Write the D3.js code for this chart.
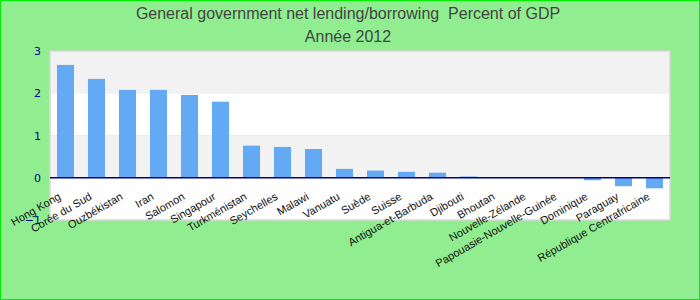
<!DOCTYPE html>
<html>
<head>
	<script src="https://d3js.org/d3.v7.min.js"></script>
	<style>
		body { margin: 0; }
	</style>
</head>
<body>
	<svg width="700" height="300"></svg>
	<script>
		var countries = ["Hong Kong", "Corée du Sud", "Ouzbékistan", "Iran", "Salomon", "Singapour",
			"Turkménistan", "Seychelles", "Malawi", "Vanuatu", "Suède", "Suisse", "Antigua-et-Barbuda",
			"Djibouti", "Bhoutan", "Nouvelle-Zélande", "Papouasie-Nouvelle-Guinée", "Dominique",
			"Paraguay", "République Centrafricaine"];
		var values = [2.67, 2.34, 2.08, 2.08, 1.96, 1.80, 0.76, 0.73, 0.68, 0.21, 0.17, 0.14,
			0.12, 0.03, 0.0, 0.0, 0.0, -0.06, -0.2, -0.25];
		var yTicks = [-1, 0, 1, 2, 3];
		var title1 = "General government net lending/borrowing  Percent of GDP";
		var title2 = "Année 2012";

		var width = 700, height = 300;
		var margin = { top: 51, right: 30, bottom: 80, left: 50 };

		var svg = d3.select("svg");

		// background
		svg.append("rect")
			.attr("x", 0.5).attr("y", 0.5)
			.attr("width", width - 1).attr("height", height - 1)
			.attr("fill", "#90ee90")
			.attr("stroke", "#00ee00");

		var x = d3.scaleBand()
			.domain(countries)
			.range([margin.left, width - margin.right])
			.paddingInner(0.45)
			.paddingOuter(0.225);

		var y = d3.scaleLinear()
			.domain([-1, 3])
			.range([height - margin.bottom, margin.top]);

		// stripes
		var bands = [[2, 3, "#f2f2f2"], [1, 2, "#ffffff"], [0, 1, "#f2f2f2"], [-1, 0, "#ffffff"]];
		svg.append("g").selectAll("rect")
			.data(bands)
			.join("rect")
			.attr("x", margin.left)
			.attr("width", width - margin.left - margin.right)
			.attr("y", d => y(d[1]))
			.attr("height", d => y(d[0]) - y(d[1]))
			.attr("fill", d => d[2]);

		svg.append("rect")
			.attr("x", margin.left).attr("y", y(3))
			.attr("width", width - margin.left - margin.right)
			.attr("height", y(-1) - y(3))
			.attr("fill", "none")
			.attr("stroke", "#d8d8d8")
			.attr("stroke-width", 1.5);

		// bars
		svg.append("g").attr("fill", "#63a9f4")
			.selectAll("rect")
			.data(values)
			.join("rect")
			.attr("x", (d, i) => x(countries[i]))
			.attr("width", x.bandwidth())
			.attr("y", d => y(Math.max(0, d)))
			.attr("height", d => Math.abs(y(d) - y(0)));

		// zero line
		svg.append("line")
			.attr("x1", margin.left).attr("x2", width - margin.right)
			.attr("y1", y(0)).attr("y2", y(0))
			.attr("stroke", "#00008b")
			.attr("stroke-width", 1.5);

		// y axis labels
		var yAxis = d3.axisLeft(y).tickValues(yTicks).tickFormat(d3.format("d")).tickSize(0).tickPadding(9);
		svg.append("g")
			.attr("transform", `translate(${margin.left},0)`)
			.call(yAxis)
			.call(g => g.select(".domain").remove())
			.call(g => g.selectAll("text")
				.attr("fill", "#00008b")
				.attr("font-family", "DejaVu Sans")
				.attr("font-size", 11));

		// x labels
		svg.append("g").selectAll("text")
			.data(countries)
			.join("text")
			.attr("transform", d => `translate(${x(d) + x.bandwidth() / 2 - 4},${y(0) + 21}) rotate(-30)`)
			.attr("text-anchor", "end")
			.attr("font-family", "Liberation Sans, Arial, sans-serif")
			.attr("font-size", 11)
			.attr("fill", "#111")
			.text(d => d);

		// titles
		svg.append("text")
			.attr("x", 348).attr("y", 19)
			.attr("text-anchor", "middle")
			.style("white-space", "pre")
			.attr("font-family", "Liberation Sans, Arial, sans-serif")
			.attr("font-size", 16)
			.attr("fill", "#444")
			.text(title1);
		svg.append("text")
			.attr("x", 348).attr("y", 42)
			.attr("text-anchor", "middle")
			.attr("font-family", "Liberation Sans, Arial, sans-serif")
			.attr("font-size", 16)
			.attr("fill", "#444")
			.text(title2);
	</script>
</body>
</html>
